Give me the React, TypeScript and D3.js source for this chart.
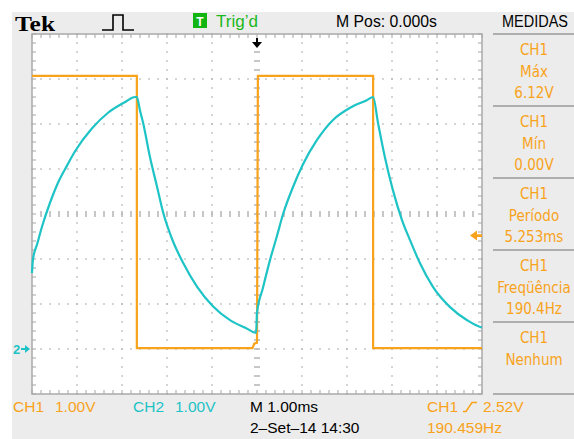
import React, { useEffect, useRef } from 'react';
import * as d3 from 'd3';

// grid divisions: time in ms (1 ms/div), volts (1 V/div, ground 1 div above bottom)
const timeDivs = d3.range(-5, 6, 1);
const voltDivs = d3.range(-1, 8, 1);

// CH1 square wave [ms, V]
const ch1Wave: [number, number][] = [
  [-5, 6.07], [-2.67, 6.07], [-2.67, 0.02], [-0.1, 0.02], [-0.06, 0.12],
  [0, 0.14], [0.02, 6.07], [2.58, 6.07], [2.58, 0.02], [5, 0.02],
];

// CH2 RC response [ms, V]
const ch2Wave: [number, number][] = [
  [-5.0, 1.69], [-4.98, 1.98], [-4.88, 2.35], [-4.78, 2.71], [-4.6, 3.25], [-4.42, 3.7],
  [-4.22, 4.08], [-4.04, 4.4], [-3.67, 4.9], [-3.31, 5.25], [-2.93, 5.49],
  [-2.71, 5.6], [-2.67, 5.6], [-2.6, 5.3], [-2.53, 5.02], [-2.38, 4.27], [-2.22, 3.6],
  [-2.09, 3.05], [-1.87, 2.4], [-1.64, 1.91], [-1.33, 1.38], [-0.98, 0.95],
  [-0.6, 0.64], [-0.22, 0.45], [-0.02, 0.36], [0.0, 0.8], [0.13, 1.35],
  [0.29, 1.98], [0.44, 2.5], [0.58, 3.0], [0.8, 3.6], [1.02, 4.1],
  [1.33, 4.64], [1.69, 5.09], [2.07, 5.36], [2.44, 5.53], [2.58, 5.6],
  [2.69, 5.02], [2.84, 4.27], [3.02, 3.53], [3.22, 2.87], [3.4, 2.42],
  [3.62, 1.91], [3.91, 1.38], [4.29, 0.93], [4.67, 0.64], [4.96, 0.49], [5.0, 0.48],
];

const measureNames = ['Máx', 'Mín', 'Período', 'Freqüência', 'Nenhum'];
const measureValues = ['6.12V', '0.00V', '5.253ms', '190.4Hz', ''];

const triggerLevel = 2.52; // V

const ORANGE = '#f8a31b';
const CYAN = '#1ec3c6';
const FONT = 'Liberation Sans, Arial, sans-serif';
const PANEL_FONT = '"DejaVu Sans Condensed", "DejaVu Sans", sans-serif';

export default function App() {
  const ref = useRef<SVGSVGElement>(null);

  useEffect(() => {
    const width = 574;
    const height = 439;
    const plotLeft = 32;
    const plotRight = 482;
    const plotTop = 34;
    const plotBottom = 394;

    const svg = d3.select(ref.current);
    svg.selectAll('*').remove();

    const x = d3.scaleLinear().domain([-5, 5]).range([plotLeft, plotRight]);
    const y = d3.scaleLinear().domain([-1, 7]).range([plotBottom, plotTop]);

    svg.append('rect')
      .attr('x', 12).attr('y', 12)
      .attr('width', width - 12).attr('height', height - 12)
      .attr('fill', '#ececec');

    svg.append('rect')
      .attr('x', x(-5)).attr('y', y(7))
      .attr('width', x(5) - x(-5)).attr('height', y(-1) - y(7))
      .attr('fill', '#fff');

    const minorX = d3.range(0, 51).map(i => -5 + i * 0.2);
    const minorY = d3.range(0, 41).map(i => -1 + i * 0.2);
    const near = (a: number, b: number) => Math.abs(a - b) < 1e-6;

    const grid = svg.append('g').attr('fill', '#b5b5b5');

    // dotted vertical lines
    timeDivs.filter(t => t > -5 && t < 5 && t !== 0).forEach(t => {
      grid.append('g').selectAll('rect')
        .data(minorY)
        .join('rect')
        .attr('x', x(t) - 0.75).attr('y', d => y(d) - 0.75)
        .attr('width', 1.5).attr('height', 1.5);
    });
    // dotted horizontal lines
    voltDivs.filter(v => v > -1 && v < 7 && v !== 3).forEach(v => {
      grid.append('g').selectAll('rect')
        .data(minorX)
        .join('rect')
        .attr('x', d => x(d) - 0.75).attr('y', y(v) - 0.75)
        .attr('width', 1.5).attr('height', 1.5);
    });
    // center axes with ticks
    grid.append('g').selectAll('rect')
      .data(minorY.filter(v => !near(v, -1) && !near(v, 7)))
      .join('rect')
      .attr('x', x(0) - 3).attr('y', d => y(d) - 0.75)
      .attr('width', 6).attr('height', 1.5);
    grid.append('g').selectAll('rect')
      .data(minorX.filter(t => !near(t, -5) && !near(t, 5)))
      .join('rect')
      .attr('x', d => x(d) - 0.75).attr('y', y(3) - 3)
      .attr('width', 1.5).attr('height', 6);

    // border ticks
    const ticks = svg.append('g').attr('fill', '#b5b5b5');
    minorX.forEach(t => {
      ticks.append('rect').attr('x', x(t) - 0.6).attr('y', plotTop).attr('width', 1.2).attr('height', 4);
      ticks.append('rect').attr('x', x(t) - 0.6).attr('y', plotBottom - 4).attr('width', 1.2).attr('height', 4);
    });
    minorY.forEach(v => {
      ticks.append('rect').attr('x', plotLeft).attr('y', y(v) - 0.6).attr('width', 4).attr('height', 1.2);
      ticks.append('rect').attr('x', plotRight - 4).attr('y', y(v) - 0.6).attr('width', 4).attr('height', 1.2);
    });

    svg.append('rect')
      .attr('x', plotLeft).attr('y', plotTop)
      .attr('width', plotRight - plotLeft).attr('height', plotBottom - plotTop)
      .attr('fill', 'none')
      .attr('stroke', '#a9a9a9')
      .attr('stroke-width', 1.5);

    const line = d3.line<[number, number]>()
      .x(d => x(d[0]))
      .y(d => y(d[1]));

    svg.append('path')
      .datum(ch1Wave)
      .attr('fill', 'none')
      .attr('stroke', ORANGE)
      .attr('stroke-width', 2.2)
      .attr('d', line);

    svg.append('path')
      .datum(ch2Wave)
      .attr('fill', 'none')
      .attr('stroke', CYAN)
      .attr('stroke-width', 2.2)
      .attr('stroke-linejoin', 'round')
      .attr('d', line.curve(d3.curveMonotoneX));

    // trigger position arrow (top)
    const tx = x(0);
    svg.append('path')
      .attr('d', `M${tx - 1},38 H${tx + 1} V42 H${tx + 5} L${tx},48 L${tx - 5},42 H${tx - 1} Z`)
      .attr('fill', '#000');

    // trigger level arrow (right)
    const ty = y(triggerLevel);
    svg.append('path')
      .attr('d', `M${plotRight - 12},${ty} L${plotRight - 5},${ty - 5} V${ty - 1.3} H${plotRight} V${ty + 1.3} H${plotRight - 5} V${ty + 5} Z`)
      .attr('fill', ORANGE);

    // CH2 ground marker
    const gy = y(0);
    svg.append('text')
      .attr('x', 13).attr('y', gy + 5)
      .attr('font-family', FONT).attr('font-size', 13).attr('font-weight', 'bold')
      .attr('fill', CYAN)
      .text('2');
    svg.append('path')
      .attr('d', `M21,${gy - 1} H25 V${gy - 4} L30,${gy} L25,${gy + 4} V${gy + 1} H21 Z`)
      .attr('fill', CYAN);

    // header
    svg.append('text')
      .attr('x', 15).attr('y', 31)
      .attr('font-family', 'Liberation Serif, Times New Roman, serif')
      .attr('font-weight', 'bold').attr('font-size', 22)
      .attr('textLength', 40).attr('lengthAdjust', 'spacingAndGlyphs')
      .text('Tek');
    svg.append('path')
      .attr('d', 'M102,30 H113 V15 H123 V30 H134')
      .attr('fill', 'none').attr('stroke', '#000').attr('stroke-width', 1.6);
    svg.append('rect')
      .attr('x', 193).attr('y', 13).attr('width', 14).attr('height', 15)
      .attr('fill', '#12b512');
    svg.append('text')
      .attr('x', 200).attr('y', 25.5).attr('text-anchor', 'middle')
      .attr('font-family', FONT).attr('font-weight', 'bold').attr('font-size', 12)
      .attr('fill', '#fff').text('T');
    svg.append('text')
      .attr('x', 216).attr('y', 27)
      .attr('font-family', FONT).attr('font-size', 17)
      .attr('textLength', 42).attr('lengthAdjust', 'spacingAndGlyphs')
      .attr('fill', '#1cb81c').text('Trig’d');
    svg.append('text')
      .attr('x', 336).attr('y', 27)
      .attr('font-family', FONT).attr('font-size', 16)
      .attr('textLength', 101).attr('lengthAdjust', 'spacingAndGlyphs')
      .text('M Pos: 0.000s');
    svg.append('text')
      .attr('x', 502).attr('y', 27)
      .attr('font-family', FONT).attr('font-size', 16)
      .attr('textLength', 66).attr('lengthAdjust', 'spacingAndGlyphs')
      .text('MEDIDAS');

    // measurements panel
    const panelTops = [34, 106, 178, 250, 322, 394];
    svg.append('g').selectAll('line')
      .data(panelTops)
      .join('line')
      .attr('x1', 493).attr('x2', width)
      .attr('y1', d => d).attr('y2', d => d)
      .attr('stroke', '#9a9a9a').attr('stroke-width', 1.5);

    const panel = svg.append('g')
      .attr('font-family', PANEL_FONT).attr('font-size', 15).attr('font-style', 'normal')
      .attr('fill', ORANGE).attr('text-anchor', 'middle');
    measureNames.forEach((name, i) => {
      const base = panelTops[i] + 21;
      panel.append('text').attr('x', 534).attr('y', base).text('CH1');
      panel.append('text').attr('x', 534).attr('y', base + 21.5).text(name);
      if (measureValues[i]) {
        panel.append('text').attr('x', 534).attr('y', base + 43).text(measureValues[i]);
      }
    });

    // footer
    const foot = svg.append('g').attr('font-family', FONT).attr('font-size', 15.5);
    foot.append('text').attr('x', 13).attr('y', 412).attr('fill', ORANGE).text('CH1');
    foot.append('text').attr('x', 55).attr('y', 412).attr('fill', ORANGE).text('1.00V');
    foot.append('text').attr('x', 133).attr('y', 412).attr('fill', CYAN).text('CH2');
    foot.append('text').attr('x', 175).attr('y', 412).attr('fill', CYAN).text('1.00V');
    foot.append('text').attr('x', 250).attr('y', 412).attr('fill', '#000').text('M 1.00ms');
    foot.append('text').attr('x', 250).attr('y', 433).attr('fill', '#000').text('2–Set–14 14:30');
    foot.append('text').attr('x', 427).attr('y', 412).attr('fill', ORANGE).text('CH1');
    foot.append('path')
      .attr('d', 'M463,411.5 H466 L472,402.5 H477')
      .attr('fill', 'none').attr('stroke', ORANGE).attr('stroke-width', 1.5);
    foot.append('text').attr('x', 483).attr('y', 412).attr('fill', ORANGE).text('2.52V');
    foot.append('text').attr('x', 427).attr('y', 433).attr('fill', ORANGE).text('190.459Hz');
  }, []);

  return (
    <svg
      ref={ref}
      width={574}
      height={439}
      style={{ position: 'absolute', left: 0, top: 0, background: '#fff' }}
    />
  );
}
